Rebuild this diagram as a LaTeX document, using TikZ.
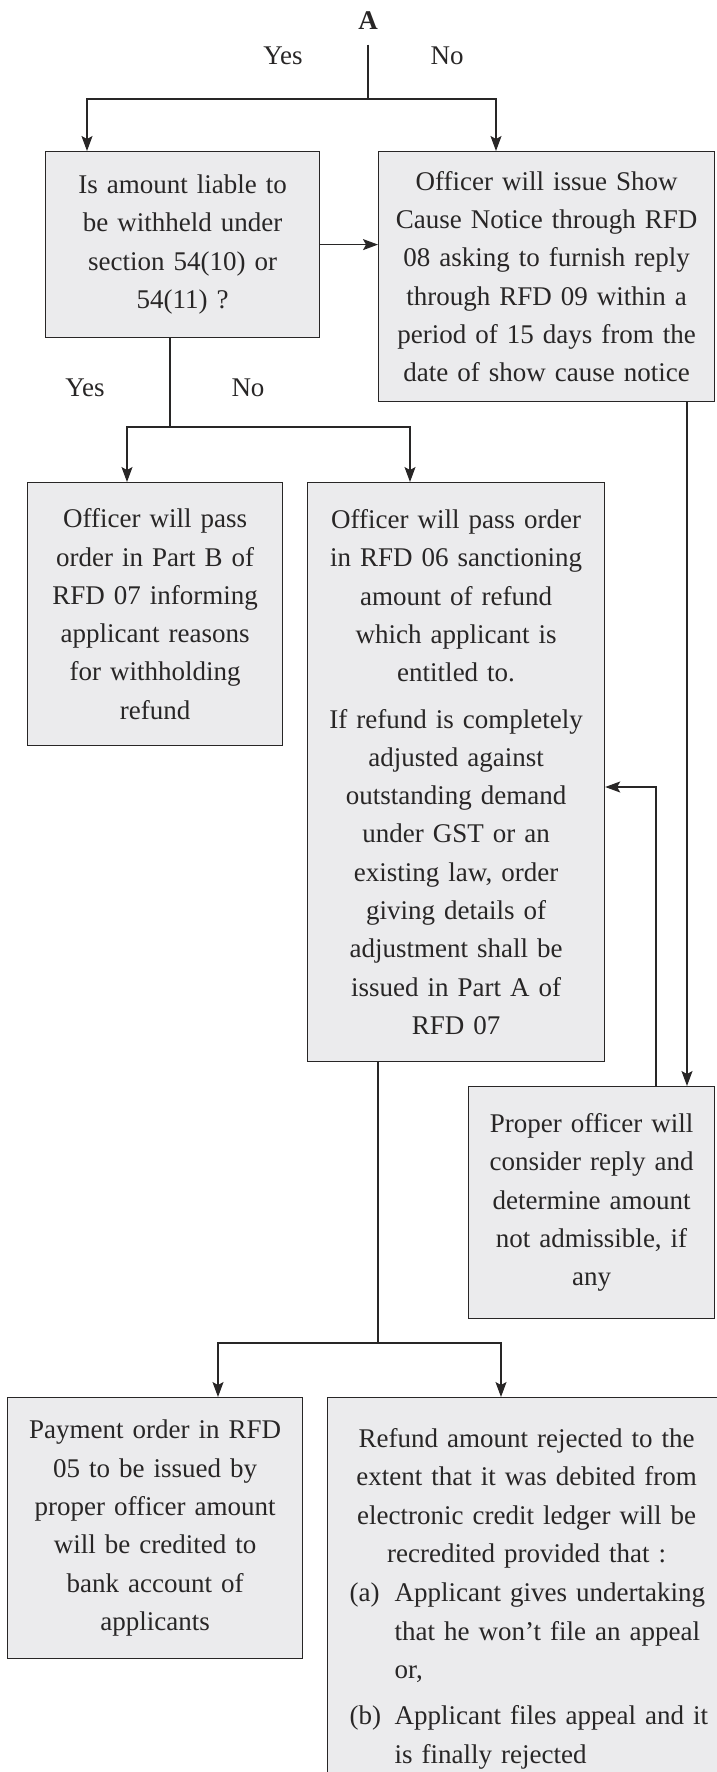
\documentclass[tikz,border=0pt]{standalone}
\usepackage{fontspec}
\setmainfont{Liberation Serif}
\usepackage{array}
\usepackage{tikz}
\newcommand{\flowfont}{\fontsize{27}{38.3}\selectfont}
\definecolor{boxgray}{RGB}{235,235,237}
\definecolor{inkgray}{RGB}{40,38,38}
\tikzset{
     arrow/.style={-{Stealth[length=15pt,width=11pt,inset=3pt]}},
     box/.style={rectangle,draw=inkgray,fill=boxgray,align=center,anchor=north west,inner xsep=5pt,inner ysep=0pt},
     answer/.style={inner sep=0pt}
     }
\usetikzlibrary{positioning,arrows.meta}

\begin{document}
\begin{tikzpicture}[x=1pt,y=-1pt,line width=1.2pt,draw=inkgray,font=\flowfont,text=inkgray]
            \useasboundingbox (0,0) rectangle (716,1772);
            % Place nodes
            \node[font=\flowfont\bfseries,inner xsep=0pt,inner ysep=14pt] (A) at (368,21) {A};
            \node[answer] (yesA) at (283,56) {Yes};
            \node[answer] (noA) at (447,56) {No};
            \node[box,text width=264pt,minimum height=186pt] (withheld) at (45,151) {Is amount liable to\\be withheld under\\section 54(10) or\\54(11) ?};
            \node[box,text width=326pt,minimum height=250pt] (notice) at (378,151) {Officer will issue Show\\Cause Notice through RFD\\08 asking to furnish reply\\through RFD 09 within a\\period of 15 days from the\\date of show cause notice};
            \node[answer] (yesB) at (85,388) {Yes};
            \node[answer] (noB) at (248,388) {No};
            \node[box,text width=245pt,minimum height=263pt] (partB) at (27,482) {Officer will pass\\order in Part B of\\RFD 07 informing\\applicant reasons\\for withholding\\refund};
            \node[box,text width=287pt,minimum height=579pt] (sanction) at (307,482) {Officer will pass order\\in RFD 06 sanctioning\\amount of refund\\which applicant is\\entitled to.\par\vspace{8pt}If refund is completely\\adjusted against\\outstanding demand\\under GST or an\\existing law, order\\giving details of\\adjustment shall be\\issued in Part A of\\RFD 07};
            \node[box,text width=236pt,minimum height=232pt] (reply) at (468,1086) {Proper officer will\\consider reply and\\determine amount\\not admissible, if\\any};
            \node[box,text width=285pt,minimum height=261pt] (payment) at (7,1397) {Payment order in RFD\\05 to be issued by\\proper officer amount\\will be credited to\\bank account of\\applicants};
            \node[box,text width=354pt,inner xsep=22pt,inner ysep=31pt] (recredit) at (327,1397) {Refund amount rejected to the\\extent that it was debited from\\electronic credit ledger will be\\recredited provided that :\par\vspace{1pt}%
              \begin{tabular}[t]{@{}p{45pt}@{}l@{}}
              (a) & \makebox[309pt][s]{Applicant gives undertaking}\\
                  & \makebox[309pt][s]{that he won’t file an appeal}\\
                  & or,\\[8pt]
              (b) & \makebox[309pt][s]{Applicant files appeal and it}\\
                  & is finally rejected
              \end{tabular}};
            % Draw edges
            \coordinate (forkA) at (368,99);
            \coordinate (colW) at (87,0);
            \coordinate (colS) at (496,0);
            \draw (A) -- (forkA);
            \draw[arrow] (forkA) -| (colW |- withheld.north);
            \draw[arrow] (forkA) -| (colS |- notice.north);
            \draw[arrow] (withheld) -- (withheld -| notice.west);
            \coordinate (colQ) at (170,0);
            \coordinate (forkB) at (170,427);
            \coordinate (colP) at (127,0);
            \coordinate (colN) at (410,0);
            \draw (colQ |- withheld.south) -- (forkB);
            \draw[arrow] (forkB) -| (colP |- partB.north);
            \draw[arrow] (forkB) -| (colN |- sanction.north);
            \coordinate (colR) at (687,0);
            \draw[arrow] (colR |- notice.south) -- (colR |- reply.north);
            \coordinate (bend) at (656,787);
            \draw[arrow] (bend |- reply.north) -- (bend) -- (bend -| sanction.east);
            \coordinate (colD) at (378,0);
            \coordinate (forkC) at (378,1343);
            \coordinate (colY) at (218,0);
            \coordinate (colZ) at (501,0);
            \draw (colD |- sanction.south) -- (forkC);
            \draw[arrow] (forkC) -| (colY |- payment.north);
            \draw[arrow] (forkC) -| (colZ |- recredit.north);
        \end{tikzpicture}
\end{document}
